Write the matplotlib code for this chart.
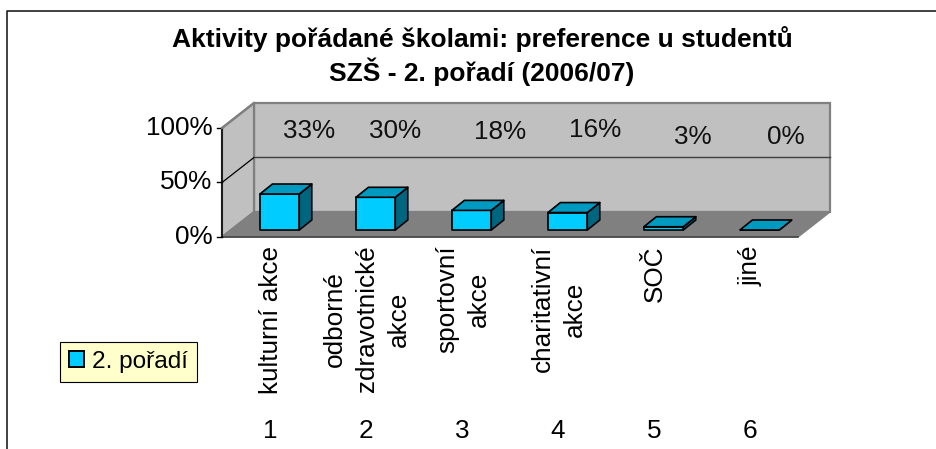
import matplotlib
matplotlib.use("Agg")
import matplotlib.pyplot as plt
from matplotlib.patches import Polygon, Patch
from matplotlib.lines import Line2D

categories = ["kulturní akce", "odborné\nzdravotnické\nakce", "sportovní\nakce", "charitativní\nakce", "SOČ", "jiné"]
category_numbers = ["1", "2", "3", "4", "5", "6"]
values = [33, 30, 18, 16, 3, 0]
value_labels = ["33%", "30%", "18%", "16%", "3%", "0%"]
y_ticks = [0, 50, 100]
y_tick_labels = ["0%", "50%", "100%"]
title = "Aktivity pořádané školami: preference u studentů\nSZŠ - 2. pořadí (2006/07)"
legend_label = "2. pořadí"

# pozice popisku hodnot
label_x = [0.91, 1.80, 2.90, 3.89, 4.90, 5.87]
label_y = [97, 97, 96, 98, 92, 92]

W, H = 936, 449
X0, PX_CAT = 222, 96.0      # pixel kategorie 0, pixelu na kategorii
Y0, PX_PCT = 237, 1.09      # pixel hodnoty 0, pixelu na procento
WALL_DX, WALL_DY = 32 / PX_CAT, 25 / PX_PCT
BAR_DX, BAR_DY = 12.5 / PX_CAT, 10 / PX_PCT
BAR_LEFT, BAR_W, BAR_BOTTOM = 0.395, 0.41, 7 / PX_PCT
FONT = 18.8

FRONT = "#00CCFF"
TOP = "#0099C0"
SIDE = "#006680"
WALL = "#C0C0C0"
FLOOR = "#808080"
GREY = "#808080"

plt.rcParams["font.family"] = ["Liberation Sans", "DejaVu Sans"]

fig = plt.figure(figsize=(W / 100, H / 100), dpi=100)
ax = fig.add_axes([0, 0, 1, 1])
ax.set_xlim(-X0 / PX_CAT, (W - X0) / PX_CAT)
ax.set_ylim(-(H - Y0) / PX_PCT, Y0 / PX_PCT)
ax.axis("off")

n = len(categories)

# steny a podlaha
ax.add_patch(Polygon([(WALL_DX, WALL_DY), (n + WALL_DX, WALL_DY), (n + WALL_DX, 100 + WALL_DY), (WALL_DX, 100 + WALL_DY)],
                     facecolor=WALL, edgecolor=GREY, linewidth=1.6))
ax.add_patch(Polygon([(0, 0), (WALL_DX, WALL_DY), (WALL_DX, 100 + WALL_DY), (0, 100)],
                     facecolor=WALL, edgecolor=GREY, linewidth=1.6))
ax.add_patch(Polygon([(0, 0), (n, 0), (n + WALL_DX, WALL_DY), (WALL_DX, WALL_DY)],
                     facecolor=FLOOR, edgecolor=FLOOR, linewidth=1))

# osa y, mrizka
ax.plot([0, n], [0, 0], color="#404040", linewidth=1.1)
ax.plot([0, 0], [0, 100], color="black", linewidth=1.1)
for t, lab in zip(y_ticks, y_tick_labels):
    ax.plot([-0.05, 0], [t, t], color="black", linewidth=1)
    ax.text(-0.1, t, lab, ha="right", va="center", fontsize=FONT)
    if t > 0:
        ax.plot([0, WALL_DX], [t, t + WALL_DY], color="black" if t < 100 else GREY, linewidth=0.9 if t < 100 else 1.6)
ax.plot([WALL_DX, n + WALL_DX], [50 + WALL_DY, 50 + WALL_DY], color="#404040", linewidth=1)

# sloupce
for i, v in enumerate(values):
    x1 = i + BAR_LEFT
    x2 = x1 + BAR_W
    y1 = BAR_BOTTOM
    y2 = BAR_BOTTOM + v
    side = [(x2, y1), (x2 + BAR_DX, y1 + BAR_DY), (x2 + BAR_DX, y2 + BAR_DY), (x2, y2)]
    top = [(x1, y2), (x2, y2), (x2 + BAR_DX, y2 + BAR_DY), (x1 + BAR_DX, y2 + BAR_DY)]
    front = [(x1, y1), (x2, y1), (x2, y2), (x1, y2)]
    for pts, col in [(side, SIDE), (front, FRONT), (top, TOP)]:
        ax.add_patch(Polygon(pts, facecolor=col, edgecolor="black", linewidth=1.2, joinstyle="round"))

# popisky hodnot
for x, y, lab in zip(label_x, label_y, value_labels):
    ax.text(x, y, lab, ha="center", va="center", fontsize=FONT, color="#111111")

# popisky kategorii
for i, (cat, num) in enumerate(zip(categories, category_numbers)):
    ax.text(i + 0.51, -8, cat, rotation=90, ha="center", va="top", ma="center",
            fontsize=FONT, linespacing=1.4)
    ax.text(i + 0.5, -178, num, ha="center", va="center", fontsize=FONT)

fig.text(482 / W, 1 - 56 / H, title, ha="center", va="center", fontsize=19, fontweight="bold", linespacing=1.24)

# ramecek grafu
fig.add_artist(Line2D([6.5 / W, 6.5 / W, 1], [0, 1 - 10.5 / H, 1 - 10.5 / H], color="#202020", linewidth=1.2))

# legenda
handle = Patch(facecolor=FRONT, edgecolor="black", linewidth=1.4)
leg = fig.legend([handle], [legend_label], loc="center left", bbox_to_anchor=(60 / W, 1 - 362 / H), fontsize=17.6,
                 frameon=True, fancybox=False, framealpha=1, facecolor="#FFFFCC", edgecolor="black",
                 handlelength=0.62, handleheight=0.62, handletextpad=0.3, borderpad=0.38, borderaxespad=0)
leg.get_frame().set_linewidth(0.8)

fig.savefig("out.png", dpi=100)
